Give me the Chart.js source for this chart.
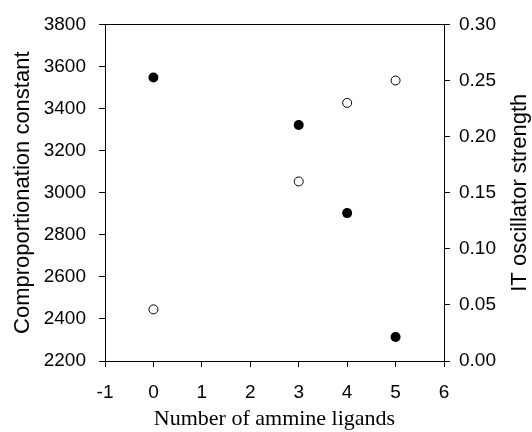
<!DOCTYPE html>
<html>
<head>
<meta charset="utf-8">
<script src="https://cdn.jsdelivr.net/npm/chart.js@4"></script>
<style>
html,body{margin:0;padding:0;background:#fff;}
#wrap{width:532px;height:432px;}
</style>
</head>
<body>
<div id="wrap"><canvas id="c" width="532" height="432"></canvas></div>
<script>
// Data
const ammineCounts = [0, 3, 4, 5];
const comproportionation = [3548, 3322, 2903, 2314];   // filled circles, left axis
const oscillatorStrength = [0.046, 0.160, 0.230, 0.250]; // open circles, right axis
const xTicks = [-1, 0, 1, 2, 3, 4, 5, 6];
const leftTicks = [2200, 2400, 2600, 2800, 3000, 3200, 3400, 3600, 3800];
const rightTicks = [0.00, 0.05, 0.10, 0.15, 0.20, 0.25, 0.30];
const rightTitle = 'IT oscillator strength';

const toPts = (xs, ys) => xs.map((x, i) => ({x: x, y: ys[i]}));

const tickFont = {family: 'Liberation Sans, Arial, sans-serif', size: 19};
const titleFont = {family: 'Liberation Sans, Arial, sans-serif', size: 22};

const frame = {
  id: 'frame',
  afterDraw(chart) {
    const a = chart.chartArea, ctx = chart.ctx;
    ctx.save();
    ctx.strokeStyle = '#000';
    ctx.lineWidth = 1;
    ctx.beginPath();
    ctx.moveTo(a.left, Math.round(a.top) + 0.5);
    ctx.lineTo(a.right, Math.round(a.top) + 0.5);
    ctx.stroke();
    // right axis title, reading bottom-to-top like the left one
    ctx.fillStyle = '#000';
    ctx.font = titleFont.size + 'px ' + titleFont.family;
    ctx.textAlign = 'center';
    ctx.textBaseline = 'alphabetic';
    ctx.translate(chart.width - 6, (a.top + a.bottom) / 2);
    ctx.rotate(-Math.PI / 2);
    ctx.fillText(rightTitle, 0, 0);
    ctx.restore();
  }
};

new Chart(document.getElementById('c'), {
  type: 'scatter',
  data: {
    datasets: [
      {
        label: 'Comproportionation constant',
        data: toPts(ammineCounts, comproportionation),
        yAxisID: 'y',
        pointStyle: 'circle',
        pointRadius: 5,
        backgroundColor: '#000',
        borderColor: '#000',
        borderWidth: 0
      },
      {
        label: rightTitle,
        data: toPts(ammineCounts, oscillatorStrength),
        yAxisID: 'y1',
        pointStyle: 'circle',
        pointRadius: 4.5,
        backgroundColor: '#fff',
        borderColor: '#000',
        borderWidth: 1
      }
    ]
  },
  options: {
    responsive: false,
    animation: false,
    devicePixelRatio: 1,
    layout: {padding: {top: 21, left: 0, right: 0, bottom: 0}},
    plugins: {legend: {display: false}, tooltip: {enabled: false}},
    scales: {
      x: {
        type: 'linear',
        min: -1, max: 6,
        afterBuildTicks: s => { s.ticks = xTicks.map(v => ({value: v})); },
        afterFit: s => { s.height = 71; },
        grid: {display: true, drawOnChartArea: false, drawTicks: true, tickLength: 6, color: '#000', lineWidth: 1},
        border: {display: true, color: '#000', width: 1},
        ticks: {color: '#000', font: tickFont, padding: 14, callback: v => String(v)},
        title: {display: true, text: 'Number of ammine ligands', color: '#000',
                font: {family: 'Liberation Serif, Times New Roman, serif', size: 22}, padding: {top: 0, bottom: 0}}
      },
      y: {
        type: 'linear',
        position: 'left',
        min: 2200, max: 3800,
        afterBuildTicks: s => { s.ticks = leftTicks.map(v => ({value: v})); },
        afterFit: s => { s.width = 105; },
        grid: {display: true, drawOnChartArea: false, drawTicks: true, tickLength: 6, color: '#000', lineWidth: 1},
        border: {display: true, color: '#000', width: 1},
        ticks: {color: '#000', font: tickFont, padding: 13, callback: v => String(v)},
        title: {display: true, text: 'Comproportionation constant', color: '#000', font: titleFont, padding: {top: 10, bottom: 0}}
      },
      y1: {
        type: 'linear',
        position: 'right',
        min: 0, max: 0.30,
        afterBuildTicks: s => { s.ticks = rightTicks.map(v => ({value: v})); },
        afterFit: s => { s.width = 88; },
        grid: {display: true, drawOnChartArea: false, drawTicks: true, tickLength: 6, color: '#000', lineWidth: 1},
        border: {display: true, color: '#000', width: 1},
        ticks: {color: '#000', font: tickFont, padding: 9, callback: v => Number(v).toFixed(2)},
        title: {display: false}
      }
    }
  },
  plugins: [frame]
});
</script>
</body>
</html>
